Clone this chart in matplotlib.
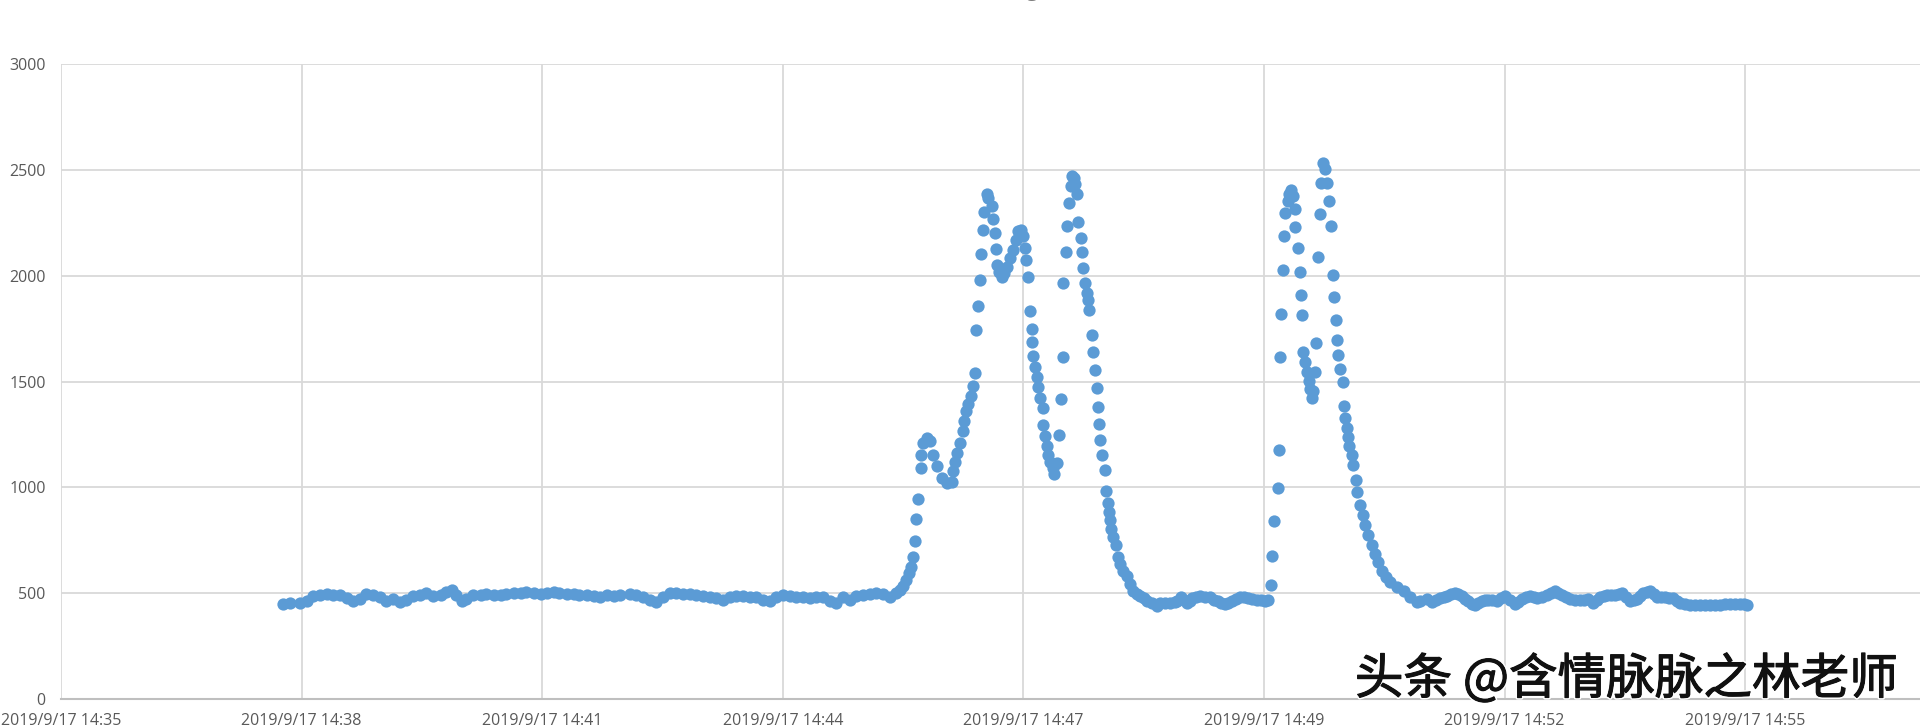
import matplotlib.pyplot as plt
import matplotlib.patheffects as pe

# readings: (seconds after 14:35:00, value)
baseline_a = [
    (209, 450), (214, 453), (221, 453), (226, 465), (230, 486), (235, 489), (240, 497), (244, 489),
    (249, 492), (254, 476), (258, 461), (263, 473), (267, 497), (272, 489), (277, 481), (281, 465),
    (286, 473), (291, 457), (295, 470), (300, 486), (305, 492), (309, 502), (314, 486), (319, 492),
    (323, 505), (327, 513), (330, 492), (334, 465), (337, 473), (342, 489), (347, 492), (351, 497),
    (356, 489), (361, 489), (365, 497), (370, 502), (375, 502), (379, 505), (384, 502), (389, 497),
    (393, 502), (398, 505), (402, 502), (407, 497), (412, 497), (416, 492), (421, 489), (426, 486),
    (430, 481), (435, 489), (440, 486), (444, 492), (451, 497), (455.5, 491), (460.4, 483),
    (465.3, 467), (469.5, 460), (474.4, 483), (479.3, 502), (483.5, 499), (488.3, 496), (493.2, 494),
    (497.4, 491), (502.3, 486), (507.2, 483), (511.4, 475), (516.3, 470), (521.2, 480), (525.4, 486),
    (530.2, 486), (535.1, 483), (539.3, 480), (544.2, 470), (549.1, 464), (553.3, 483), (558.2, 491),
    (563.1, 486), (567.2, 480), (572.1, 480), (577.0, 475), (581.2, 480), (586.1, 483), (591.0, 464),
    (595.2, 455), (600.1, 480), (605.0, 470), (609.2, 486), (614.0, 491), (618.9, 496), (623.1, 499),
    (628.0, 496), (632.9, 480), (637.1, 499),
]

peak_a = [
    (639.9, 515), (641.9, 535), (644.0, 560), (646.1, 595), (647.5, 625), (648.9, 672), (650.3, 746),
    (651.0, 849), (652.6, 943), (654.3, 1091), (654.5, 1154), (656.1, 1210), (658.5, 1234),
    (660.8, 1218), (663.1, 1154), (665.5, 1099), (669.0, 1043), (672.5, 1019), (675.9, 1027),
    (677.1, 1075), (678.3, 1122), (679.9, 1162), (681.8, 1210), (683.7, 1265), (684.6, 1313),
    (686.0, 1360), (687.6, 1392), (689.2, 1432), (690.6, 1480), (692.3, 1538), (693.0, 1745),
    (694.1, 1856), (695.7, 1980), (696.7, 2103), (698.1, 2214), (698.5, 2300), (700.9, 2384),
    (701.5, 2368), (703.9, 2329), (704.6, 2268), (706.2, 2202), (706.9, 2125), (707.8, 2051),
    (709.2, 2019), (710.9, 1995), (712.5, 2011), (714.4, 2043), (716.7, 2083), (719.0, 2122),
    (720.9, 2170), (722.5, 2210), (724.2, 2218), (725.6, 2186), (727.2, 2130), (727.9, 2075),
    (729.5, 1992), (730.7, 1833), (731.8, 1749), (732.3, 1686), (733.0, 1622), (734.2, 1567),
    (735.3, 1522), (736.5, 1472), (737.6, 1424), (739.5, 1376), (739.9, 1294), (741.1, 1242),
    (742.3, 1194), (743.4, 1154), (744.6, 1122), (746.5, 1091), (747.4, 1062),
]

peak_b = [
    (749.3, 1115), (750.5, 1246), (752.1, 1416), (753.5, 1614), (753.9, 1963), (755.6, 2110),
    (756.3, 2233), (758.1, 2344), (759.1, 2424), (760.2, 2471), (761.4, 2463), (762.1, 2432),
    (763.7, 2384), (764.4, 2252), (766.1, 2178), (767.2, 2110), (767.9, 2038), (769.1, 1967),
    (770.3, 1919), (771.2, 1884), (771.9, 1837), (773.7, 1718), (774.9, 1638), (776.1, 1554),
    (777.2, 1469), (777.9, 1380), (779.1, 1297), (779.5, 1222), (780.7, 1151), (783.0, 1083),
    (783.7, 983), (784.9, 924), (785.8, 884), (786.5, 845), (787.2, 805), (788.8, 765), (790.7, 726),
    (792.3, 670), (793.5, 638), (795.8, 606), (798.2, 583), (800.5, 543), (802.8, 511), (805.0, 498),
    (807.5, 488), (810.0, 475), (812.1, 464), (815.5, 452), (819.1, 440),
]

baseline_b = [
    (821.4, 453), (824.9, 453), (828.4, 453), (831.9, 458), (833.3, 461), (836.1, 484), (838.2, 470),
    (840.3, 453), (842.4, 465), (843.8, 476), (846.6, 483), (849.4, 487), (852.9, 484), (856.3, 481),
    (859.1, 470), (861.9, 461), (864.0, 455), (866.8, 450), (868.9, 455), (871.7, 461), (874.5, 472),
    (877.3, 484), (880.1, 480), (882.9, 476), (885.7, 472), (889.2, 468), (892.0, 466), (894.7, 465),
    (896.8, 466),
]

peak_c = [
    (898.7, 538), (899.4, 675), (901.0, 840), (903.4, 996), (904.3, 1178), (905.3, 1614),
    (906.0, 1821), (907.4, 2027), (907.6, 2189), (908.8, 2297), (910.4, 2352), (911.7, 2384),
    (913.1, 2405), (914.1, 2376), (915.7, 2316), (915.9, 2230), (917.8, 2132), (919.2, 2019),
    (919.7, 1910), (920.8, 1816), (921.5, 1638), (922.7, 1591), (923.9, 1543), (925.3, 1503),
    (926.2, 1464), (927.4, 1424), (928.5, 1456), (929.9, 1543), (930.4, 1683), (931.8, 2087),
    (933.2, 2291), (933.7, 2440), (935.5, 2532), (936.9, 2503), (937.9, 2440), (939.3, 2354),
    (940.9, 2233), (941.8, 2003), (943.0, 1897), (943.9, 1792), (944.9, 1694), (945.5, 1626),
    (947.2, 1559), (949.0, 1500), (949.9, 1384), (950.8, 1329), (951.8, 1278), (952.9, 1237),
    (953.6, 1194), (955.3, 1154), (956.4, 1107), (958.3, 1035), (959.2, 980), (961.1, 916),
    (963.0, 869), (964.6, 821), (966.9, 773), (969.3, 726), (971.5, 686), (973.9, 646), (976.2, 607),
    (979.3, 575), (982.1, 551), (986.8, 527), (991.4, 511), (996.1, 484), (1000.7, 456),
]

baseline_c = [
    (1003.0, 465), (1007.9, 472), (1011.4, 456), (1014.2, 466), (1017.0, 476), (1019.7, 482),
    (1021.8, 487), (1024.6, 494), (1027.4, 500), (1029.5, 494), (1032.3, 487), (1034.4, 474),
    (1036.5, 461), (1039.3, 450), (1041.5, 445), (1043.5, 452), (1046.3, 461), (1048.4, 466),
    (1050.5, 468), (1053.3, 466), (1056.8, 465), (1059.6, 476), (1062.4, 487), (1065.9, 468),
    (1069.4, 450), (1071.4, 460), (1074.3, 472), (1077.0, 480), (1079.9, 487), (1082.6, 482),
    (1084.7, 476), (1088.2, 484), (1091.7, 492), (1094.5, 500), (1097.3, 508), (1099.4, 500),
    (1102.2, 492), (1104.9, 482), (1107.8, 472), (1111.2, 470), (1114.7, 468), (1117.5, 470),
    (1120.3, 472), (1123.8, 453), (1126.6, 468), (1128.7, 481), (1131.5, 488), (1133.6, 492),
    (1136.4, 492), (1139.2, 492), (1142.0, 496), (1144.1, 500), (1146.9, 480), (1149.7, 461),
    (1152.4, 466), (1154.5, 472), (1156.6, 486), (1158.7, 500), (1161.5, 505), (1163.6, 508),
    (1166.4, 496), (1168.5, 484), (1171.3, 482), (1174.1, 481), (1176.9, 478), (1179.6, 476),
    (1182.4, 465), (1184.5, 453), (1188.0, 448), (1191.5, 445), (1195.0, 445), (1198.5, 445),
    (1202.0, 445), (1205.5, 445), (1209.0, 445), (1212.5, 445), (1216.0, 448), (1219.5, 450),
    (1223.0, 450), (1226.5, 450), (1229.3, 448), (1231.5, 445),
]

y_ticks = [0, 500, 1000, 1500, 2000, 2500, 3000]
x_labels = ['2019/9/17 14:35', '2019/9/17 14:38', '2019/9/17 14:41', '2019/9/17 14:44',
            '2019/9/17 14:47', '2019/9/17 14:49', '2019/9/17 14:52', '2019/9/17 14:55']
x_tick_start = 54   # 14:35:54
x_tick_step = 168   # seconds between major ticks

segments = [baseline_a, peak_a, peak_b, baseline_b, peak_c, baseline_c]
t = [p[0] for seg in segments for p in seg]
v = [p[1] for seg in segments for p in seg]

plt.rcParams['font.family'] = ['Open Sans', 'DejaVu Sans']

fig = plt.figure(figsize=(19.2, 7.28), dpi=100)
ax = fig.add_axes([61 / 1920, 29 / 728, 1859 / 1920, 635 / 728])

ax.scatter(t, v, s=78, color='#5B9BD5', linewidths=0, zorder=3)

x_ticks = [x_tick_start + i * x_tick_step for i in range(len(x_labels))]
ax.set_xlim(x_tick_start, 1352)
ax.set_ylim(0, 3000)
ax.set_xticks(x_ticks)
ax.set_xticklabels(x_labels)
ax.set_yticks(y_ticks)

ax.grid(True, color='#D9D9D9', linewidth=1.3)
ax.set_axisbelow(True)
for side in ['top', 'right', 'left']:
    ax.spines[side].set_visible(False)
ax.spines['bottom'].set_color('#BFBFBF')
ax.spines['bottom'].set_linewidth(1.5)
ax.tick_params(axis='both', length=0, labelsize=11.5, labelcolor='#595959')
ax.tick_params(axis='x', pad=10)
ax.tick_params(axis='y', pad=11)

# only the lower part of the chart title survives at the top edge
fig.text(1032 / 1920, 1 + 3 / 728, 'g', ha='center', va='baseline', fontsize=14, color='#7f7f7f')

fig.text(1898 / 1920, 1 - 680 / 728, '头条 @含情脉脉之林老师', ha='right', va='center',
         fontsize=35, color='#111111', family=['Noto Sans CJK SC', 'DejaVu Sans'],
         path_effects=[pe.withStroke(linewidth=3, foreground='white'),
                       pe.Stroke(linewidth=0.8, foreground='#111111'), pe.Normal()],
         zorder=10)

fig.savefig('out.png', dpi=100)
